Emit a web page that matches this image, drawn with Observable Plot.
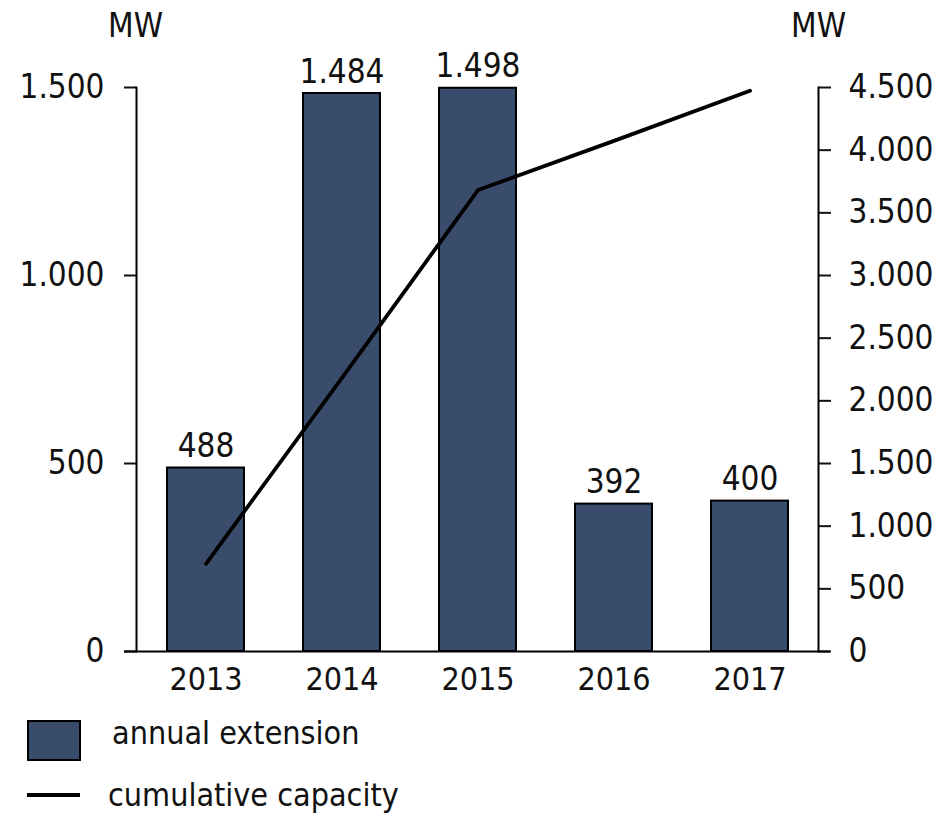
<!DOCTYPE html>
<html>
<head>
<meta charset="utf-8">
<script src="https://cdn.jsdelivr.net/npm/d3@7"></script>
<script src="https://cdn.jsdelivr.net/npm/@observablehq/plot@0.6"></script>
<style>
  html, body { margin: 0; padding: 0; background: #fff; }
  body { width: 941px; height: 815px; position: relative; overflow: hidden;
         font-family: "DejaVu Sans Condensed", "DejaVu Sans", sans-serif; color: #111; }
  #chart { position: absolute; left: 0; top: 0; }
  .legend-item { position: absolute; font-size: 32px; line-height: 1; white-space: nowrap; }
  .swatch-bar { position: absolute; left: 27px; top: 720px; width: 50px; height: 37px;
                background: #3a4c6b; border: 2px solid #000; }
  .swatch-line { position: absolute; left: 27px; top: 793px; width: 53px; height: 4px; background: #000; }
</style>
</head>
<body>
<div id="chart"></div>
<div class="swatch-bar"></div>
<div class="legend-item" style="left:112px; top:717px;">annual extension</div>
<div class="swatch-line"></div>
<div class="legend-item" style="left:108px; top:779px;">cumulative capacity</div>
<script>
const years = ["2013", "2014", "2015", "2016", "2017"];
const annualExtension = [488, 1484, 1498, 392, 400];
const cumulativeCapacity = [700, 2184, 3682, 4074, 4474];
const leftTicks = [0, 500, 1000, 1500];
const rightTicks = [0, 500, 1000, 1500, 2000, 2500, 3000, 3500, 4000, 4500];
const seriesNames = ["annual extension", "cumulative capacity"];
const unitLabel = "MW";

const ratio = 3; // right axis max 4500 vs left max 1500
const locale = d3.formatLocale({decimal: ",", thousands: ".", grouping: [3], currency: ["", ""]});
const fmt = locale.format(",d");

const data = years.map((y, i) => ({year: y, ext: annualExtension[i], cum: cumulativeCapacity[i]}));
const FONT = "DejaVu Sans Condensed, DejaVu Sans, sans-serif";
const barColor = "#3a4c6b";

const chart = Plot.plot({
  width: 941,
  height: 700,
  marginLeft: 136,
  marginRight: 123,
  marginTop: 87,
  marginBottom: 49,
  style: {fontFamily: FONT, fontSize: "33px", color: "#111", background: "white"},
  x: {domain: years, paddingInner: 0.435, paddingOuter: 0.2175, axis: null},
  y: {domain: [0, 1500], axis: null},
  marks: [
    Plot.barY(data, {x: "year", y: "ext", fill: barColor, stroke: "#000", strokeWidth: 2}),
    Plot.text(data, {x: "year", y: "ext", text: d => fmt(d.ext), lineAnchor: "bottom", dy: -11, fontSize: 33, fill: "#111"}),
    Plot.lineY(data, {x: "year", y: d => d.cum / ratio, stroke: "#000", strokeWidth: 3.8}),
    Plot.axisX({tickSize: 0, tickPadding: 16, fontSize: 32, label: null}),
    Plot.axisY({anchor: "left", ticks: leftTicks, tickFormat: fmt, tickSize: 12, tickPadding: 20, strokeWidth: 2, fontSize: 33, label: null}),
    Plot.axisY({anchor: "right", ticks: rightTicks.map(v => v / ratio), tickFormat: v => fmt(Math.round(v * ratio)), tickSize: 12, tickPadding: 18, strokeWidth: 2, fontSize: 33, label: null}),
    Plot.frame({anchor: "left", stroke: "#000", strokeWidth: 2}),
    Plot.frame({anchor: "right", stroke: "#000", strokeWidth: 2}),
    Plot.ruleY([0], {insetLeft: -12, insetRight: -12, stroke: "#000", strokeWidth: 2}),
    Plot.text([unitLabel], {frameAnchor: "top-left", dx: -1, dy: -74, lineAnchor: "top", textAnchor: "middle", fontSize: 33, fill: "#111"}),
    Plot.text([unitLabel], {frameAnchor: "top-right", dx: 0, dy: -74, lineAnchor: "top", textAnchor: "middle", fontSize: 33, fill: "#111"})
  ]
});
document.getElementById("chart").appendChild(chart);
</script>
</body>
</html>
